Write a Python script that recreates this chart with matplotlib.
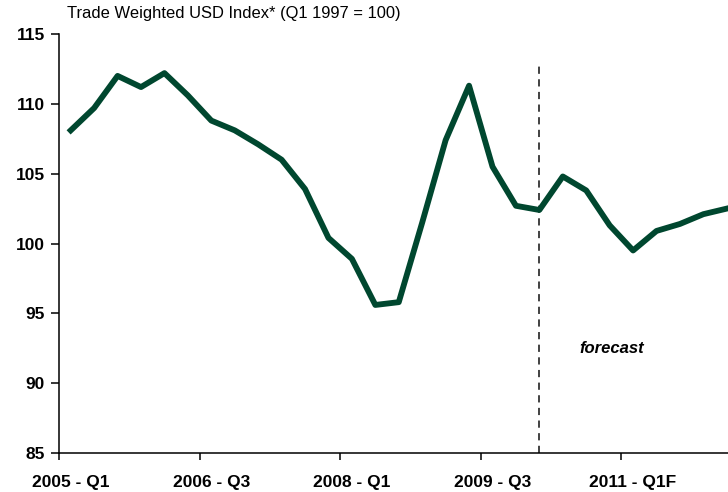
import matplotlib.pyplot as plt
import numpy as np

plt.rcParams["font.family"] = "Liberation Sans"

# quarterly trade weighted USD index, 2005 Q1 .. 2012 Q1 (forecast from 2010 Q1)
quarters = ["2005 - Q1", "2005 - Q2", "2005 - Q3", "2005 - Q4",
            "2006 - Q1", "2006 - Q2", "2006 - Q3", "2006 - Q4",
            "2007 - Q1", "2007 - Q2", "2007 - Q3", "2007 - Q4",
            "2008 - Q1", "2008 - Q2", "2008 - Q3", "2008 - Q4",
            "2009 - Q1", "2009 - Q2", "2009 - Q3", "2009 - Q4",
            "2010 - Q1", "2010 - Q2F", "2010 - Q3F", "2010 - Q4F",
            "2011 - Q1F", "2011 - Q2F", "2011 - Q3F", "2011 - Q4F",
            "2012 - Q1F"]
usd_index = [108.1, 109.7, 112.0, 111.2, 112.2, 110.6, 108.8, 108.1,
             107.1, 106.0, 103.9, 100.4, 98.9, 95.6, 95.8, 101.5,
             107.4, 111.3, 105.5, 102.7, 102.4, 104.8, 103.8, 101.3,
             99.5, 100.9, 101.4, 102.1, 102.5]
forecast_start = 20
label_every = 6

line_color = "#00472F"

fig = plt.figure(figsize=(7.28, 4.92), dpi=100)
ax = fig.add_axes([59 / 728, 1 - 453 / 492, 1 - 59 / 728, (453 - 34) / 492])

x = np.arange(len(usd_index))
ax.plot(x, usd_index, color=line_color, lw=4.2, solid_joinstyle="round",
        clip_on=False, zorder=3)
ax.vlines(forecast_start, 85, 112.8, colors="#333333", linestyles=(0, (4, 3)),
          lw=1.3, zorder=2)
ax.text(forecast_start + 3.1, 92.5, "forecast", fontsize=12, fontweight="bold",
        fontstyle="italic", ha="center", va="center")

ax.set_xlim(-0.5, len(usd_index) - 0.95)
ax.set_ylim(85, 115)
ax.set_yticks(np.arange(85, 116, 5))
ax.tick_params(axis="y", labelsize=12.5, length=6, width=1.1, pad=4)
for t in ax.get_yticklabels():
    t.set_fontweight("bold")

# boundary ticks between categories, labels at category centres
ax.set_xticks(np.arange(-0.5, len(usd_index), label_every))
ax.set_xticklabels([])
ax.tick_params(axis="x", which="major", length=5, width=1.1)
lab_pos = np.arange(0, len(usd_index), label_every)
ax.set_xticks(lab_pos, minor=True)
ax.set_xticklabels([quarters[i] for i in lab_pos], minor=True,
                   fontsize=12.5, fontweight="bold")
ax.tick_params(axis="x", which="minor", length=0, pad=16)

for s in ["top", "right"]:
    ax.spines[s].set_visible(False)
for s in ["left", "bottom"]:
    ax.spines[s].set_linewidth(1.1)

fig.text(67 / 728, 1 - 18 / 492, "Trade Weighted USD Index* (Q1 1997 = 100)",
         fontsize=11.9, ha="left", va="baseline")

plt.savefig("out.png", dpi=100)
